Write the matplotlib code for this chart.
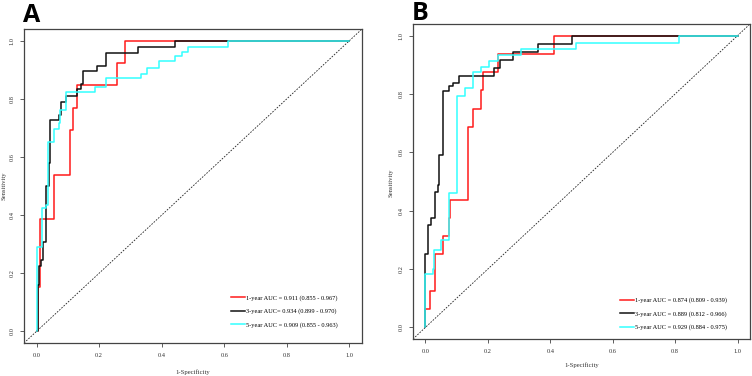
import matplotlib
matplotlib.use("Agg")
import matplotlib.pyplot as plt

# ---------------- data ----------------
ticks = [0.0, 0.2, 0.4, 0.6, 0.8, 1.0]
tick_labels = ["0.0", "0.2", "0.4", "0.6", "0.8", "1.0"]

# Panel A
a_red_fpr = [0, 0.005, 0.011, 0.057, 0.108, 0.117, 0.128, 0.257, 0.282, 1.0]
a_red_tpr = [0, 0.154, 0.385, 0.538, 0.692, 0.769, 0.846, 0.923, 1.0, 1.0]
a_blk_fpr = [0, 0.005, 0.009, 0.014, 0.021, 0.029, 0.031, 0.039, 0.043, 0.071, 0.078,
             0.094, 0.128, 0.143, 0.150, 0.194, 0.222, 0.324, 0.444, 1.0]
a_blk_tpr = [0, 0.16, 0.226, 0.245, 0.306, 0.48, 0.50, 0.578, 0.727, 0.745, 0.79,
             0.81, 0.832, 0.851, 0.894, 0.914, 0.958, 0.979, 1.0, 1.0]
a_cyn_fpr = [0, 0, 0.018, 0.029, 0.037, 0.055, 0.072, 0.075, 0.093, 0.188, 0.222,
             0.335, 0.353, 0.39, 0.444, 0.465, 0.484, 0.612, 1.0]
a_cyn_tpr = [0, 0.289, 0.423, 0.435, 0.653, 0.697, 0.715, 0.763, 0.825, 0.841, 0.872,
             0.886, 0.906, 0.931, 0.946, 0.961, 0.978, 1.0, 1.0]
a_labels = ["1-year AUC = 0.911 (0.855 - 0.967)",
            "3-year AUC= 0.934 (0.899 - 0.970)",
            "5-year AUC = 0.909 (0.855 - 0.963)"]

# Panel B
b_red_fpr = [0, 0, 0.015, 0.032, 0.055, 0.074, 0.080, 0.136, 0.153, 0.177, 0.184,
             0.234, 0.411, 1.0]
b_red_tpr = [0, 0.0625, 0.125, 0.25, 0.3125, 0.375, 0.4375, 0.6875, 0.75, 0.8125,
             0.875, 0.9375, 1.0, 1.0]
b_blk_fpr = [0, 0, 0.0095, 0.0095, 0.018, 0.032, 0.041, 0.044, 0.055, 0.076, 0.089,
             0.108, 0.218, 0.239, 0.282, 0.361, 0.468, 1.0]
b_blk_tpr = [0, 0.25, 0.27, 0.35, 0.375, 0.463, 0.489, 0.59, 0.809, 0.826, 0.838,
             0.863, 0.89, 0.918, 0.944, 0.971, 1.0, 1.0]
b_cyn_fpr = [0, 0, 0.025, 0.027, 0.05, 0.076, 0.10, 0.127, 0.152, 0.178, 0.203,
             0.232, 0.305, 0.482, 0.812, 1.0]
b_cyn_tpr = [0, 0.183, 0.20, 0.265, 0.30, 0.46, 0.794, 0.82, 0.874, 0.892, 0.914,
             0.935, 0.954, 0.975, 1.0, 1.0]
b_labels = ["1-year AUC = 0.874 (0.809 - 0.939)",
            "3-year AUC = 0.889 (0.812 - 0.966)",
            "5-year AUC = 0.929 (0.884 - 0.975)"]

colors = ["#ff1a1a", "#111111", "#33ffff"]

W, H = 752, 376
fig = plt.figure(figsize=(W / 100, H / 100), dpi=100)
serif = "Liberation Serif"


def px(x, y):
    return x / W, 1 - y / H


def make_panel(rect, curves, labels, letter, letter_xy, ylab_xy, xlab_xy, leg_anchor):
    ax = fig.add_axes(rect)
    ax.set_xlim(-0.04, 1.04)
    ax.set_ylim(-0.04, 1.04)
    ax.axline((0, 0), (1, 1), color="#222222", lw=0.6, ls=(0, (2, 1.6)))
    handles = []
    for (fx, ty), c, lab in zip(curves, colors, labels):
        h, = ax.plot(fx, ty, drawstyle="steps-post", color=c, lw=1.1, label=lab)
        handles.append(h)
    ax.set_xticks(ticks)
    ax.set_xticklabels(tick_labels)
    ax.set_yticks(ticks)
    ax.set_yticklabels(tick_labels, rotation=90, va="center")
    ax.tick_params(length=3, width=0.6, color="#444444", labelsize=4.6,
                   labelcolor="#333333", pad=4)
    for lab in ax.get_xticklabels() + ax.get_yticklabels():
        lab.set_family(serif)
    for s in ax.spines.values():
        s.set_color("#444444")
        s.set_linewidth(0.9)
    ax.legend(handles=handles, loc="lower right", bbox_to_anchor=leg_anchor,
              frameon=False, prop={"family": serif, "size": 4.6},
              handlelength=2.2, handletextpad=0.2, labelspacing=1.2)
    fig.text(*px(*letter_xy), letter, fontsize=18, fontweight="bold",
             family="Open Sans", va="baseline", ha="left")
    fig.text(*px(*ylab_xy), "Sensitivity", rotation=90, fontsize=4.8,
             family=serif, ha="center", va="center", color="#333333")
    fig.text(*px(*xlab_xy), "1-Specificity", fontsize=4.8,
             family=serif, ha="center", va="center", color="#333333")
    return ax


make_panel([24 / W, 1 - 343 / H, 338 / W, 314 / H],
           [(a_red_fpr, a_red_tpr), (a_blk_fpr, a_blk_tpr), (a_cyn_fpr, a_cyn_tpr)],
           a_labels, "A", (23, 22), (4, 186), (193, 372), (0.946, 0.03))

make_panel([413 / W, 1 - 339 / H, 337 / W, 315 / H],
           [(b_red_fpr, b_red_tpr), (b_blk_fpr, b_blk_tpr), (b_cyn_fpr, b_cyn_tpr)],
           b_labels, "B", (412, 20), (391, 183), (582, 365), (0.95, 0.01))

fig.savefig("out.png", dpi=100)
